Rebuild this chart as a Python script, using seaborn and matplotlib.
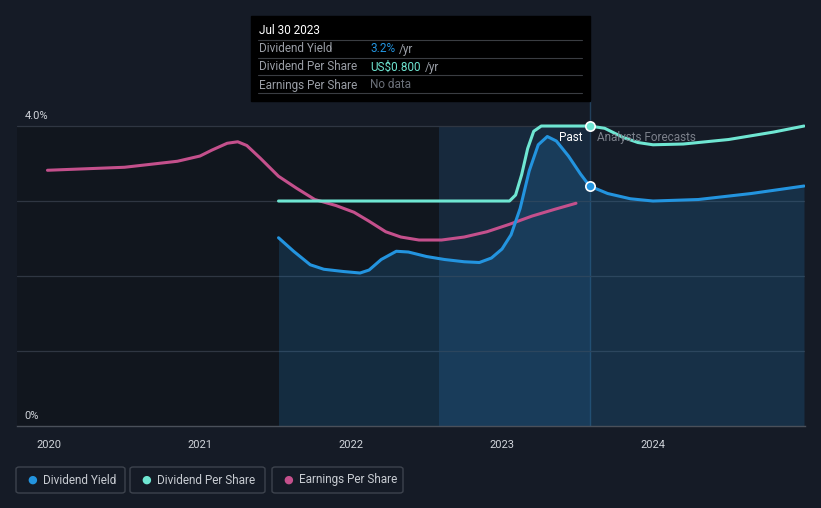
import numpy as np
import pandas as pd
import matplotlib.pyplot as plt
import seaborn as sns
from matplotlib.patches import FancyBboxPatch, Rectangle

# Data (values in % units on the shared axis)
yield_years = [2021.52, 2021.62, 2021.73, 2021.82, 2021.95, 2022.06, 2022.12, 2022.2,
               2022.3, 2022.38, 2022.5, 2022.62, 2022.75, 2022.85, 2022.93, 2023.0,
               2023.06, 2023.12, 2023.18, 2023.24, 2023.3, 2023.36, 2023.44, 2023.52,
               2023.58, 2023.7, 2023.85, 2024.0, 2024.3, 2024.65, 2025.0]
yield_values = [2.51, 2.33, 2.15, 2.09, 2.06, 2.04, 2.08, 2.22,
                2.33, 2.32, 2.26, 2.22, 2.19, 2.18, 2.24, 2.36,
                2.55, 2.9, 3.4, 3.75, 3.86, 3.8, 3.6, 3.36,
                3.2, 3.1, 3.03, 3.0, 3.02, 3.1, 3.2]

dps_years = [2021.52, 2022.0, 2022.5, 2023.05, 2023.09, 2023.13, 2023.17, 2023.21,
             2023.26, 2023.4, 2023.58, 2023.68, 2023.8, 2023.9, 2024.0, 2024.2,
             2024.5, 2024.8, 2025.0]
dps_values = [3.0, 3.0, 3.0, 3.0, 3.08, 3.35, 3.7, 3.93,
              4.0, 4.0, 4.0, 3.97, 3.85, 3.78, 3.75, 3.76,
              3.82, 3.92, 4.0]

eps_years = [2019.99, 2020.5, 2020.85, 2021.0, 2021.08, 2021.18, 2021.25, 2021.31,
             2021.4, 2021.52, 2021.64, 2021.76, 2021.9, 2022.02, 2022.12, 2022.23,
             2022.33, 2022.45, 2022.6, 2022.75, 2022.9, 2023.05, 2023.2, 2023.35, 2023.49]
eps_values = [3.41, 3.45, 3.53, 3.6, 3.68, 3.77, 3.79, 3.74,
              3.57, 3.33, 3.17, 3.02, 2.94, 2.85, 2.73, 2.59,
              2.52, 2.48, 2.48, 2.52, 2.59, 2.69, 2.8, 2.89, 2.97]

year_ticks = [2020, 2021, 2022, 2023, 2024]
series_names = ["Dividend Yield", "Dividend Per Share", "Earnings Per Share"]
series_colors = ["#2394df", "#6fe6d2", "#c4508c"]

bg = "#151b26"
sns.set_style("dark")
plt.rcParams["font.family"] = ["Roboto", "DejaVu Sans"]

fig = plt.figure(figsize=(8.21, 5.08), dpi=100, facecolor=bg)
ax = fig.add_axes([17 / 821, 82 / 508, 788 / 821, 326 / 508])
ax.set_facecolor(bg)

x0 = 2020 + (17 - 49) / 151
x1 = 2020 + (805 - 49) / 151
ax.set_xlim(x0, x1)
ax.set_ylim(0, 4.347)

now = 2023.58
hl_start = 2022.58

# shaded regions
ax.add_patch(Rectangle((x0, 0), hl_start - x0, 4.0, color="#0f131a", alpha=0.6, lw=0, zorder=0))
ax.add_patch(Rectangle((hl_start, 0), now - hl_start, 4.0, color="#1a3550", alpha=0.55, lw=0, zorder=0))
ax.plot([now, now], [0, 4.347], color="#22405c", lw=1, zorder=1)

# gridlines
for g in [1, 2, 3, 4]:
    ax.axhline(g, color="#2f3642", lw=0.9, zorder=1)

df_yield = pd.DataFrame({"year": yield_years, "value": yield_values})
df_dps = pd.DataFrame({"year": dps_years, "value": dps_values})
df_eps = pd.DataFrame({"year": eps_years, "value": eps_values})

ax.fill_between(yield_years, yield_values, 0, color="#2394df", alpha=0.18, lw=0, zorder=2)

line_kw = dict(lw=2.2, solid_capstyle="round", solid_joinstyle="round")
sns.lineplot(data=df_eps, x="year", y="value", color=series_colors[2], ax=ax, zorder=3, **line_kw)
sns.lineplot(data=df_dps, x="year", y="value", color=series_colors[1], ax=ax, zorder=4, **line_kw)
sns.lineplot(data=df_yield, x="year", y="value", color=series_colors[0], ax=ax, zorder=5, **line_kw)

ax.scatter([now], [4.0], s=45, color=series_colors[1], edgecolor="white", lw=1.2, zorder=6)
ax.scatter([now], [3.2], s=45, color=series_colors[0], edgecolor="white", lw=1.2, zorder=6)

ax.text(now - 0.05, 3.85, "Past", color="white", fontsize=8.5, ha="right", va="center", zorder=7)
ax.text(now + 0.05, 3.85, "Analysts Forecasts", color="#7b808a", fontsize=8.5, ha="left", va="center", zorder=7)

# y labels
ax.text(x0 + 0.05, 4.07, "4.0%", color="#d0d4da", fontsize=8, ha="left", va="bottom")
ax.text(x0 + 0.05, 0.07, "0%", color="#d0d4da", fontsize=8, ha="left", va="bottom")

# x axis
ax.set_xticks(year_ticks)
ax.set_xticklabels([str(y) for y in year_ticks], color="#d0d4da", fontsize=8)
ax.set_yticks([])
ax.set_xlabel("")
ax.set_ylabel("")
ax.tick_params(axis="x", colors="#4a505a", length=4, width=1, labelcolor="#d0d4da", pad=6)
for s in ["top", "right", "left"]:
    ax.spines[s].set_visible(False)
ax.spines["bottom"].set_color("#4a505a")
ax.spines["bottom"].set_linewidth(1)

# tooltip box
W, H = 821, 508
def fx(px):
    return px / W
def fy(py):
    return 1 - py / H

renderer = fig.canvas.get_renderer()

fig.patches.append(Rectangle((fx(251), fy(101)), fx(590) - fx(251), fy(16) - fy(101),
                             transform=fig.transFigure, color="black", zorder=10))
fig.text(fx(259), fy(31), "Jul 30 2023", color="white", fontsize=8.5, va="center", zorder=11)
rows = [("Dividend Yield", "3.2%", series_colors[0], "/yr"),
        ("Dividend Per Share", "US$0.800", series_colors[1], "/yr"),
        ("Earnings Per Share", "No data", "#6b7079", "")]
for i, (label, val, col, suffix) in enumerate(rows):
    yy = 49 + i * 18
    fig.text(fx(259), fy(yy), label, color="#9a9ea6", fontsize=8.5, va="center", zorder=11)
    t = fig.text(fx(370), fy(yy), val, color=col, fontsize=8.5, va="center", zorder=11)
    if suffix:
        w = t.get_window_extent(renderer).width
        fig.text(fx(370 + w + 4), fy(yy), suffix, color="#9a9ea6", fontsize=8.5, va="center", zorder=11)
for yy in [40, 58, 75, 93]:
    fig.lines.append(plt.Line2D([fx(258), fx(582)], [fy(yy), fy(yy)], transform=fig.transFigure,
                                color="#3a3d42", lw=0.8, zorder=11))

# legend boxes
boxes = [(16, 125), (130, 265), (272, 403)]
for (bx0, bx1), name, col in zip(boxes, series_names, series_colors):
    fig.patches.append(FancyBboxPatch((fx(bx0), fy(493)), fx(bx1) - fx(bx0), fy(467) - fy(493),
                                      boxstyle="round,pad=0,rounding_size=0.004",
                                      transform=fig.transFigure, facecolor=bg,
                                      edgecolor="#3d434d", lw=1))
    fig.text(fx(bx0 + 16), fy(480), "●", color=col, fontsize=8, ha="center", va="center")
    fig.text(fx(bx0 + 27), fy(480), name, color="#c8ccd2", fontsize=8.5, va="center")

fig.savefig("out.png", dpi=100, facecolor=bg)
